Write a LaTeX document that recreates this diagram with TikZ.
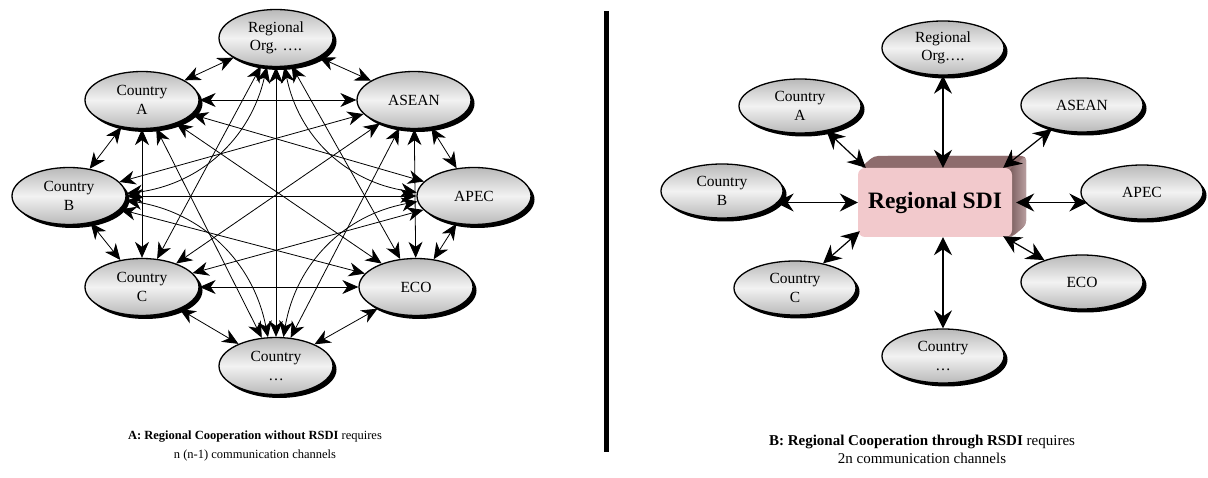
\documentclass[tikz,border=0pt]{standalone}
\usepackage{fontspec}
\setmainfont{Liberation Serif}
\usetikzlibrary{shapes.geometric,arrows.meta,shadows,calc}
\definecolor{boxfront}{HTML}{F2C9CC}
\definecolor{boxtop}{HTML}{8E6C6D}
\definecolor{boxside}{HTML}{9A7576}
\begin{document}
\begin{tikzpicture}[x=1pt,y=1pt,
  ell/.style={ellipse, draw=black, line width=1.3pt,
    top color=gray!55, bottom color=gray!55, middle color=gray!10,
    drop shadow={shadow xshift=3.5pt,shadow yshift=-3.5pt,fill=black,opacity=1},
    font=\fontsize{15.5}{18.5}\selectfont, align=center, inner sep=0pt},
  ellL/.style={ell, minimum width=114pt, minimum height=57pt},
  ellR/.style={ell, minimum width=122pt, minimum height=54pt},
  lk/.style={{Stealth[length=16pt,width=14pt,inset=5pt]}-{Stealth[length=16pt,width=14pt,inset=5pt]}, line width=0.8pt},
  lkR/.style={{Stealth[length=18pt,width=18pt,inset=6pt]}-{Stealth[length=18pt,width=18pt,inset=6pt]}, line width=1.2pt},
  captxtA/.style={font=\fontsize{12.5}{19}\selectfont, align=center},
  captxtB/.style={font=\fontsize{15}{18}\selectfont, align=center}
]
\useasboundingbox (0,0) rectangle (1208,477);

% ---------- Panel A ----------
\node[ellL] (reg1)   at (276,439) {Regional\\Org. ….};
\node[ellL] (asean1) at (414,377) {ASEAN};
\node[ellL] (apec1)  at (474,281) {APEC};
\node[ellL] (eco1)   at (416,190) {ECO};
\node[ellL] (cd1)    at (276,111) {Country\\…};
\node[ellL] (cc1)    at (142,190) {Country\\C};
\node[ellL] (cb1)    at (69,281)  {Country\\B};
\node[ellL] (ca1)    at (142,377) {Country\\A};

% adjacent, distance-3 and diameter links
\foreach \a/\b in {reg1/asean1, asean1/apec1, apec1/eco1, eco1/cd1, cd1/cc1, cc1/cb1, cb1/ca1, ca1/reg1,
  ca1/asean1, asean1/eco1, eco1/cc1, cc1/ca1,
  reg1/eco1, asean1/cd1, apec1/cc1, eco1/cb1, cd1/ca1, cc1/reg1, cb1/asean1, ca1/apec1,
  reg1/cd1, asean1/cc1, apec1/cb1, eco1/ca1}
  \draw[lk] (\a) -- (\b);
% curved distance-2 links
\foreach \a/\b in {reg1/apec1, apec1/cd1, cd1/cb1, cb1/reg1}
  \draw[lk] (\a) to[bend right=35] (\b);

\node[captxtA] (capA) at (255,31) {\textbf{A: Regional Cooperation without RSDI} requires\\n (n-1) communication channels};

% ---------- separator ----------
\coordinate (sepT) at (606.5,466);
\coordinate (sepB) at (606.5,25);
\draw[line width=5pt] (sepT) -- (sepB);

% ---------- Panel B ----------
\fill[boxside, rounded corners=4pt] (1005,309) -- (872,309) -- (884,321) -- (1026,321) -- (1026,252) -- (1012,240) -- (1005,240) -- cycle;
\shade[left color=boxside!80!black, right color=boxside!70!white, rounded corners=4pt] (1010,309) -- (1026,321) -- (1026,252) -- (1010,240) -- cycle;
\fill[boxtop, rounded corners=4pt] (860,309) -- (874,321) -- (1024,321) -- (1012,309) -- cycle;
\node[rectangle, rounded corners=7pt, fill=boxfront, minimum width=154pt, minimum height=69pt,
  font=\fontsize{23.5}{26}\selectfont\bfseries] (sdi) at (935,274.5) {Regional SDI};

\node[ellR] (reg2)   at (943,429) {Regional\\Org….};
\node[ellR] (asean2) at (1082,372) {ASEAN};
\node[ellR] (apec2)  at (1142,285) {APEC};
\node[ellR] (eco2)   at (1082,195) {ECO};
\node[ellR] (cd2)    at (943,121) {Country\\…};
\node[ellR] (cc2)    at (795,189) {Country\\C};
\node[ellR] (cb2)    at (722,286) {Country\\B};
\node[ellR] (ca2)    at (800,371) {Country\\A};

\draw[lkR] (reg2) -- (reg2 |- sdi.north);
\draw[lkR] (cd2) -- (cd2 |- sdi.south);
\draw[lkR] (ca2) -- ($(sdi.north west)+(8,0)$);
\draw[lkR] (cc2) -- ($(sdi.south west)+(2,6)$);
\draw[lkR] (asean2) -- ($(sdi.north east)+(-9,0)$);
\draw[lkR] (eco2) -- ($(sdi.south east)+(-9,1)$);
\draw[lkR] ($(cb2.east |- sdi.west)+(-8,0)$) -- (sdi.west);
\draw[lkR] ($(apec2.west |- sdi.east)+(7,0)$) -- ($(sdi.east)+(4,0)$);

\node[captxtB] (capB) at (922,28) {\textbf{B: Regional Cooperation through RSDI} requires\\2n communication channels};
\end{tikzpicture}
\end{document}
